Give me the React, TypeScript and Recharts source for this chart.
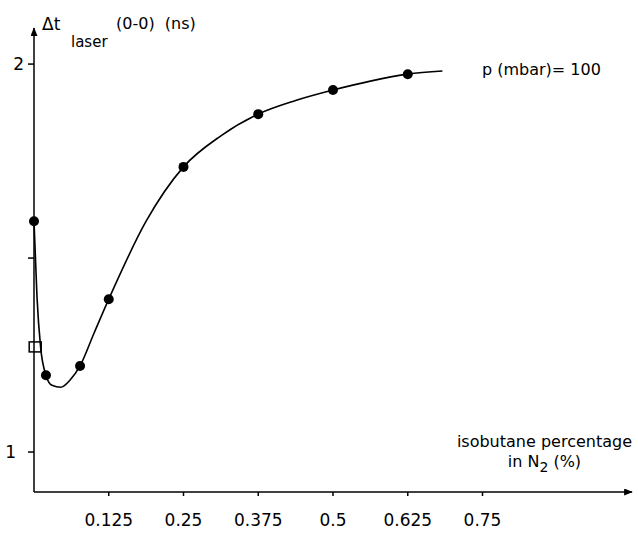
import { ComposedChart, Line, Scatter, XAxis, YAxis } from 'recharts';

// isobutane percentage in N2 (%) and measured Δt laser (0-0) in ns
const pctIsobutane = [0, 0.02, 0.077, 0.125, 0.25, 0.375, 0.5, 0.625];
const dtLaser = [1.595, 1.198, 1.222, 1.394, 1.735, 1.871, 1.933, 1.974];

// open square (pure N2 reference)
const refX = [0.002];
const refY = [1.271];

// hand-drawn fit curve
const fitX = [0, 0.005, 0.011, 0.02, 0.03, 0.045, 0.06, 0.077, 0.1, 0.125, 0.1875, 0.25, 0.3125, 0.375, 0.4375, 0.5, 0.5625, 0.625, 0.683];
const fitY = [1.595, 1.4, 1.271, 1.198, 1.172, 1.167, 1.185, 1.222, 1.305, 1.394, 1.595, 1.735, 1.815, 1.871, 1.906, 1.933, 1.956, 1.974, 1.982];

const xTicks = [0.125, 0.25, 0.375, 0.5, 0.625, 0.75];
const yTicks = [1, 1.5, 2];
const yTickText: Record<string, string> = { '1': '1', '2': '2' };

const FONT = '"DejaVu Sans", sans-serif';

const points = pctIsobutane.map((x, i) => ({ x, y: dtLaser[i] }));
const refPoints = refX.map((x, i) => ({ x, y: refY[i] }));
const fit = fitX.map((x, i) => ({ x, y: fitY[i] }));

const Dot = (p: any) => <circle cx={p.cx} cy={p.cy} r={5} fill="#000" />;
const Square = (p: any) => (
  <rect x={p.cx - 6} y={p.cy - 5} width={12} height={10} fill="none" stroke="#000" strokeWidth={1.5} />
);

const tickStyle = { fontSize: 17, fill: '#000', fontFamily: FONT };

// the "1" is lettered a bit further left than the "2"
const YTick = (p: any) => {
  const label = yTickText[String(p.payload.value)] ?? '';
  const shift = p.payload.value === 1 ? 8 : 0;
  return (
    <text x={p.x - shift} y={p.y} dy="0.355em" textAnchor="end" {...tickStyle}>
      {label}
    </text>
  );
};

export default function App() {
  return (
    <div style={{ position: 'absolute', left: 0, top: 0, width: 638, height: 534, background: '#fff', fontFamily: FONT, color: '#000' }}>
      <svg width={0} height={0} style={{ position: 'absolute' }}>
        <defs>
          <marker id="arr" viewBox="0 0 10 8" refX={9} refY={4} markerWidth={9} markerHeight={7}
            markerUnits="userSpaceOnUse" orient="auto-start-reverse">
            <path d="M0,0 L10,4 L0,8 z" fill="#000" />
          </marker>
        </defs>
      </svg>

      <ComposedChart width={638} height={534} margin={{ top: 28, right: 6, bottom: 0, left: 0 }}>
        <XAxis
          type="number"
          dataKey="x"
          domain={[0, 1]}
          ticks={xTicks}
          height={42}
          tickSize={4}
          tickMargin={18}
          tick={tickStyle}
          tickFormatter={(v: number) => String(v)}
          axisLine={{ stroke: '#000', strokeWidth: 1.5, markerEnd: 'url(#arr)' }}
          tickLine={{ stroke: '#000', strokeWidth: 1.5 }}
        />
        <YAxis
          type="number"
          dataKey="y"
          domain={[0.897, 2.093]}
          ticks={yTicks}
          width={34}
          tickSize={6}
          tickMargin={4}
          tick={<YTick />}
          axisLine={{ stroke: '#000', strokeWidth: 1.5, markerStart: 'url(#arr)' }}
          tickLine={{ stroke: '#000', strokeWidth: 1.5 }}
        />
        <Line data={fit} dataKey="y" type="monotone" stroke="#000" strokeWidth={1.6} dot={false} activeDot={false} isAnimationActive={false} />
        <Scatter data={points} dataKey="y" shape={<Dot />} isAnimationActive={false} />
        <Scatter data={refPoints} dataKey="y" shape={<Square />} isAnimationActive={false} />
      </ComposedChart>

      {/* y axis title */}
      <div style={{ position: 'absolute', left: 42, top: 14, fontSize: 17, lineHeight: '20px', whiteSpace: 'nowrap' }}>
        Δt
      </div>
      <div style={{ position: 'absolute', left: 71, top: 33, fontSize: 15, lineHeight: '18px' }}>laser</div>
      <div style={{ position: 'absolute', left: 116, top: 14, fontSize: 16, lineHeight: '20px', whiteSpace: 'nowrap' }}>
        (0-0)&nbsp;&nbsp;(ns)
      </div>

      {/* pressure */}
      <div style={{ position: 'absolute', left: 482, top: 60, fontSize: 16, lineHeight: '20px', whiteSpace: 'nowrap' }}>
        p&nbsp;(mbar)= 100
      </div>

      {/* x axis title */}
      <div style={{ position: 'absolute', right: 6, top: 432, fontSize: 16, lineHeight: '20px', textAlign: 'center', whiteSpace: 'nowrap' }}>
        isobutane percentage
        <br />
        in N<sub style={{ fontSize: 14, verticalAlign: '-5px', lineHeight: 0 }}>2</sub> (%)
      </div>
    </div>
  );
}
